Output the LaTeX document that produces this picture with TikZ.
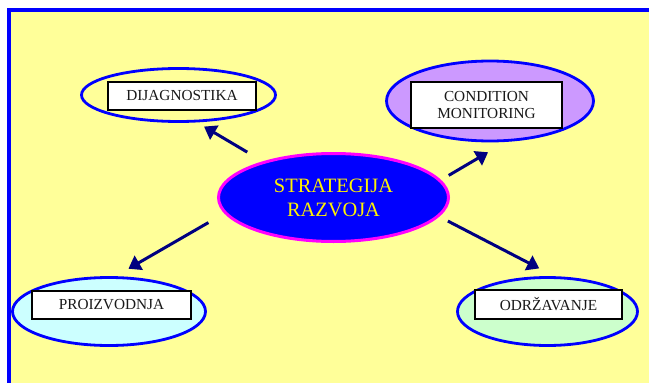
\documentclass[tikz,border=0pt]{standalone}
\usepackage{fontspec}
\setmainfont{Liberation Serif}
\usetikzlibrary{arrows.meta,shapes.geometric}
\definecolor{paper}{HTML}{FFFF99}
\definecolor{frameblue}{HTML}{0000FF}
\definecolor{hubpink}{HTML}{FF00FF}
\definecolor{arrownavy}{HTML}{000080}
\definecolor{lilac}{HTML}{CC99FF}
\definecolor{icecyan}{HTML}{CCFFFF}
\definecolor{mint}{HTML}{CCFFCC}

\begin{document}
\begin{tikzpicture}[x=1pt, y=-1pt,
  topic/.style={ellipse, draw=frameblue, line width=2.8pt, inner sep=0pt, outer sep=0pt},
  tag/.style={draw=black, line width=1.5pt, fill=white, inner sep=0pt, align=center,
    text=black!90, font=\fontsize{15.3}{16.5}\selectfont},
  link/.style={-{Triangle[length=12pt,width=16pt]}, line width=3pt, draw=arrownavy}
]
\useasboundingbox (0,0) rectangle (649,383);

% frame
\fill[paper] (8.5,10) rectangle (649,383);
\draw[frameblue, line width=4pt] (8.5,383) |- (649,10);

% centre
\node[ellipse, draw=hubpink, fill=frameblue, line width=3pt, inner sep=0pt, outer sep=0pt,
  minimum width=230pt, minimum height=88pt, align=center, text=yellow,
  font=\fontsize{20.4}{24}\selectfont] (strat) at (333.5,197.5) {STRATEGIJA\\RAZVOJA};

% branches
\node[topic, fill=paper, minimum width=194pt, minimum height=53pt] (diag) at (178.5,95) {};
\node[tag, minimum width=148pt, minimum height=28pt] (diagbox) at (182,96) {DIJAGNOSTIKA};

\node[topic, fill=lilac, minimum width=207pt, minimum height=80pt] (cond) at (490,101) {};
\node[tag, minimum width=151pt, minimum height=46pt] (condbox) at (486.5,105) {CONDITION\\MONITORING};

\node[topic, fill=icecyan, minimum width=193pt, minimum height=68pt] (proiz) at (109,311.5) {};
\node[tag, minimum width=159pt, minimum height=28pt] (proizbox) at (111.5,305) {PROIZVODNJA};

\node[topic, fill=mint, minimum width=180pt, minimum height=68pt] (odrz) at (547.5,311.5) {};
\node[tag, minimum width=147pt, minimum height=29pt] (odrzbox) at (548.5,304.5) {ODRŽAVANJE};

% arrows
\draw[link, shorten <=20pt, shorten >=10.7pt] (strat.153.5) -- (diag.-58);
\draw[link, shorten <=10.4pt, shorten >=23.5pt] (strat.9.6) -- (cond.-65.4);
\draw[link, shorten <=19.8pt, shorten >=17.6pt] (strat.-172.9) -- (proiz.83.7);
\draw[link, shorten <=11.2pt, shorten >=20.2pt] (strat.-10.1) -- (odrz.74.9);
\end{tikzpicture}
\end{document}
